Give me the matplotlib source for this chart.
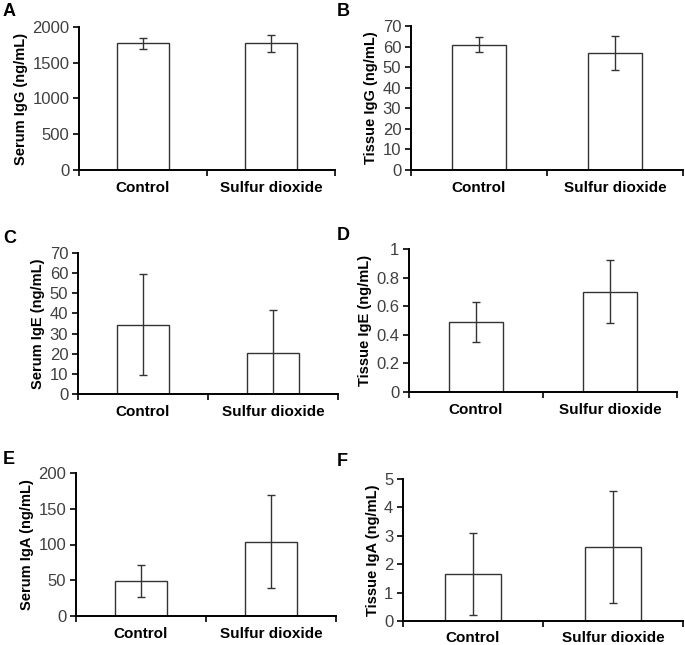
import matplotlib
matplotlib.use("Agg")
import matplotlib.pyplot as plt

plt.rcParams['font.family'] = ['Liberation Sans', 'DejaVu Sans']

categories = ["Control", "Sulfur dioxide"]

serum_igg = [1770, 1770]
serum_igg_err = [82, 115]
tissue_igg = [61, 57]
tissue_igg_err = [3.8, 8.3]
serum_ige = [34.5, 20.6]
serum_ige_err = [25.3, 21]
tissue_ige = [0.49, 0.70]
tissue_ige_err = [0.14, 0.22]
serum_iga = [49, 104]
serum_iga_err = [22, 65]
tissue_iga = [1.65, 2.6]
tissue_iga_err = [1.44, 1.96]

panels = [
    ("A", "Serum IgG (ng/mL)", serum_igg, serum_igg_err, 2000, 500, (79, 335, 27, 170), (3, 12), 8),
    ("B", "Tissue IgG (ng/mL)", tissue_igg, tissue_igg_err, 70, 10, (411, 683, 26, 170), (337, 12), 8),
    ("C", "Serum IgE (ng/mL)", serum_ige, serum_ige_err, 70, 10, (78, 338, 253, 394), (3, 238), 8),
    ("D", "Tissue IgE (ng/mL)", tissue_ige, tissue_ige_err, 1, 0.2, (409, 677, 249, 392), (337, 236), 8),
    ("E", "Serum IgA (ng/mL)", serum_iga, serum_iga_err, 200, 50, (76, 336, 473, 616), (3, 459), 8),
    ("F", "Tissue IgA (ng/mL)", tissue_iga, tissue_iga_err, 5, 1, (403, 683, 479, 621), (337, 462), 7),
]

W, H = 685, 645
fig = plt.figure(figsize=(W / 100, H / 100), dpi=100)

for letter, ylabel, vals, errs, ymax, step, (l, r, t, b), (lx, ly), xpad in panels:
    ax = fig.add_axes([l / W, 1 - b / H, (r - l) / W, (b - t) / H])
    x = [0.5, 1.5]
    ax.bar(x, vals, width=0.4, color="white", edgecolor="#333333", linewidth=1.0, zorder=2)
    ax.errorbar(x, vals, yerr=errs, fmt="none", ecolor="#333333", elinewidth=1.0,
                capsize=3, capthick=1.0, zorder=3)
    ax.set_xlim(0, 2)
    ax.set_ylim(0, ymax)
    ticks = []
    v = 0.0
    while v <= ymax + 1e-9:
        ticks.append(round(v, 6))
        v += step
    ax.set_yticks(ticks)
    ax.set_yticklabels([("%g" % tk) for tk in ticks])
    ax.set_xticks([0, 1, 2])
    ax.set_xticklabels([])
    ax.set_xticks(x, minor=True)
    ax.set_xticklabels(categories, minor=True, fontsize=11, fontweight="bold")
    ax.tick_params(axis="x", which="minor", length=0, pad=xpad)
    ax.tick_params(axis="x", which="major", length=4, width=1.2, direction="out")
    ax.tick_params(axis="y", length=4, width=1.2, direction="out", labelsize=12,
                   labelcolor="#404040", pad=3)
    for s in ["top", "right"]:
        ax.spines[s].set_visible(False)
    for s in ["left", "bottom"]:
        ax.spines[s].set_linewidth(1.4)
    ax.set_ylabel(ylabel, fontsize=10.5, fontweight="bold", labelpad=3)
    fig.text(lx / W, 1 - ly / H, letter, fontsize=13, fontweight="bold", va="center", ha="left")

fig.savefig("out.png", dpi=100)
